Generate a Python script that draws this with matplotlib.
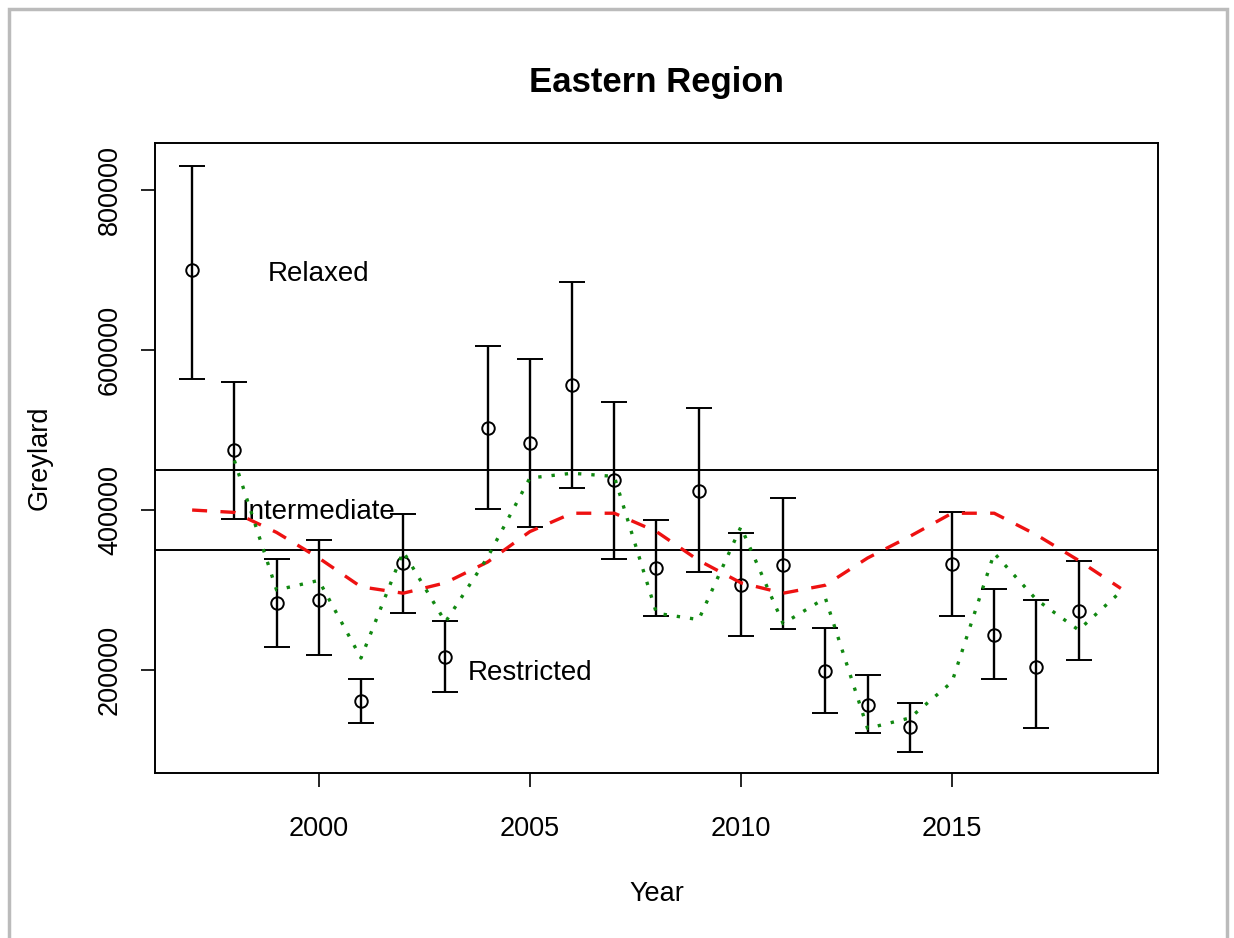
import matplotlib.pyplot as plt
from matplotlib.patches import Rectangle

plt.rcParams['font.family'] = ['Liberation Sans', 'DejaVu Sans']

# survey estimates with error bars
years = list(range(1997, 2019))
estimate = [700000, 475000, 284000, 288000, 161000, 334000, 216000, 503000,
            484000, 556000, 437000, 327000, 424000, 306000, 331000, 199000,
            156000, 129000, 332000, 244000, 204000, 274000]
upper = [830000, 560000, 339000, 362000, 189000, 395000, 261000, 605000,
         589000, 685000, 535000, 387000, 527000, 371000, 415000, 253000,
         194000, 159000, 398000, 301000, 287000, 336000]
lower = [564000, 389000, 229000, 219000, 134000, 271000, 172000, 401000,
         379000, 428000, 339000, 268000, 322000, 243000, 251000, 146000,
         121000, 97500, 267000, 189000, 127000, 213000]

# red dashed trend
trend_years = list(range(1997, 2020))
trend = [400000, 397000, 372000, 340000, 304000, 296000, 309000, 335000,
         373000, 396000, 396000, 373000, 337000, 309000, 296000, 306000,
         340000, 367000, 396000, 396000, 369000, 337000, 302000]

# green dotted fit
fit_years = list(range(1998, 2020))
fit = [462000, 300000, 312000, 215000, 348000, 260000, 341000, 440000,
       446000, 442000, 271000, 263000, 379000, 258000, 290000, 127000,
       140000, 185000, 346000, 288000, 250000, 298000]

# category thresholds and labels
thresholds = [450000, 350000]
zone_labels = ['Relaxed', 'Intermediate', 'Restricted']
zone_pos = [(2000, 695000), (2000, 397000), (2005, 196000)]

fig = plt.figure(figsize=(12.34, 9.38), dpi=100)
ax = fig.add_axes([0.1256, 0.1759, 0.8128, 0.6716])

yerr = [[e - lo for e, lo in zip(estimate, lower)],
        [up - e for e, up in zip(estimate, upper)]]
ax.errorbar(years, estimate, yerr=yerr, fmt='o', mfc='none', mec='black',
            ms=9, mew=1.4, ecolor='black', elinewidth=1.7, capsize=9.5,
            capthick=1.7, zorder=3)

for t in thresholds:
    ax.axhline(t, color='black', lw=1.4, zorder=2)

ax.plot(trend_years, trend, color='#ee1111', lw=2.4, dashes=(4.5, 4), zorder=4)
ax.plot(fit_years, fit, color='#118811', lw=2.4, dashes=(1, 3), zorder=4)

for lab, (x, y) in zip(zone_labels, zone_pos):
    ax.text(x, y, lab, ha='center', va='center', fontsize=20, zorder=1)

ax.set_xlim(1996.12, 2019.88)
ax.set_ylim(71250, 858750)
ax.set_xticks([2000, 2005, 2010, 2015])
ax.set_yticks([200000, 400000, 600000, 800000])
ax.set_yticklabels(['200000', '400000', '600000', '800000'],
                   rotation=90, va='center')
ax.tick_params(direction='out', length=10, width=1.2, labelsize=19.5)
ax.tick_params(axis='x', pad=21)
ax.tick_params(axis='y', pad=13)
for s in ax.spines.values():
    s.set_linewidth(1.4)

ax.set_xlabel('Year', fontsize=19.5, labelpad=28)
ax.set_ylabel('Greylard', fontsize=19.5, labelpad=32)
ax.set_title('Eastern Region', fontsize=25, fontweight='bold', pad=37)

# scanned-page frame
fig.patches.append(Rectangle((0.007, -0.01), 0.987, 1.0, transform=fig.transFigure,
                             fill=False, edgecolor='#bbbbbb', lw=2.5))

fig.savefig('out.png', dpi=100)
